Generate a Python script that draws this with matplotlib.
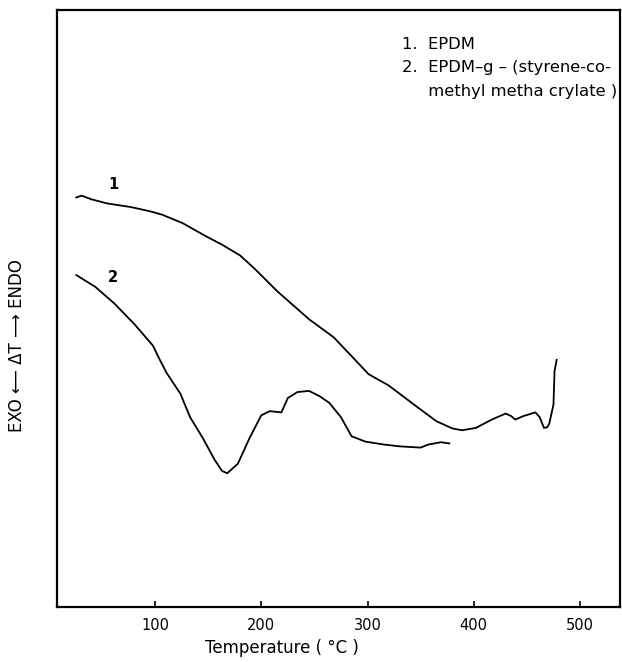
import matplotlib
matplotlib.use("Agg")
import matplotlib.pyplot as plt

# Curve 1: EPDM (temperature in °C, ΔT in arbitrary units)
t1 = [26, 31, 40, 55, 77, 95, 107, 126, 148, 163, 180, 193, 215, 245, 268, 283,
      301, 320, 346, 365, 380, 389, 402, 417, 430, 435, 439, 447, 458, 462, 466,
      469, 471, 475, 476, 478]
y1 = [68.6, 68.9, 68.3, 67.6, 67.0, 66.3, 65.7, 64.3, 62.1, 60.7, 58.9, 56.8,
      52.9, 48.2, 45.2, 42.4, 39.0, 37.1, 33.6, 31.1, 29.9, 29.6, 30.0, 31.4,
      32.4, 32.0, 31.4, 32.0, 32.6, 31.8, 30.0, 30.1, 30.7, 33.9, 39.5, 41.4]

# Curve 2: EPDM-g-(styrene-co-methyl methacrylate)
t2 = [26, 44, 62, 81, 98, 104, 111, 124, 133, 145, 156, 163, 168, 178, 189,
      200, 208, 219, 225, 234, 245, 255, 264, 275, 285, 298, 316, 331, 350,
      357, 369, 377]
y2 = [55.6, 53.6, 50.8, 47.3, 43.8, 41.6, 39.2, 35.7, 31.8, 28.3, 24.7, 22.8,
      22.4, 24.0, 28.3, 32.1, 32.8, 32.6, 35.0, 36.0, 36.2, 35.3, 34.2, 31.8,
      28.6, 27.7, 27.2, 26.9, 26.7, 27.2, 27.6, 27.4]

xticks = [100, 200, 300, 400, 500]
legend_lines = ["1.  EPDM", "2.  EPDM\u2013g \u2013 (styrene-co-", "     methyl metha crylate )"]

fig = plt.figure(figsize=(6.22, 6.62), dpi=100)
ax = fig.add_axes([57 / 622, 1 - 607 / 662, (620 - 57) / 622, (607 - 10) / 662])

ax.plot(t1, y1, color="black", lw=1.3)
ax.plot(t2, y2, color="black", lw=1.3)

ax.text(60.5, 69.5, "1", fontsize=10.5, fontweight="semibold", ha="center", va="bottom")
ax.text(60, 54.0, "2", fontsize=10.5, fontweight="semibold", ha="center", va="bottom")

ax.set_xlim(7.8, 537.6)
ax.set_ylim(0, 100)
ax.set_xticks(xticks)
ax.set_xticklabels([str(v) for v in xticks], fontsize=10.5)
ax.set_yticks([])
ax.tick_params(axis="x", direction="in", length=4, width=1.2, pad=8)
for s in ax.spines.values():
    s.set_linewidth(1.6)

ys = [0.943, 0.903, 0.864]
for txt, yy in zip(legend_lines, ys):
    ax.text(0.612, yy, txt, transform=ax.transAxes, fontsize=11.8, ha="left", va="center")

fig.text(282 / 622, 1 - 648 / 662, "Temperature ( \u00b0C )", fontsize=12,
         ha="center", va="center")
fig.text(17 / 622, 1 - 346 / 662, "EXO \u27f5 \u0394T \u27f6 ENDO", fontsize=12,
         rotation=90, ha="center", va="center")

fig.savefig("out.png", dpi=100)
